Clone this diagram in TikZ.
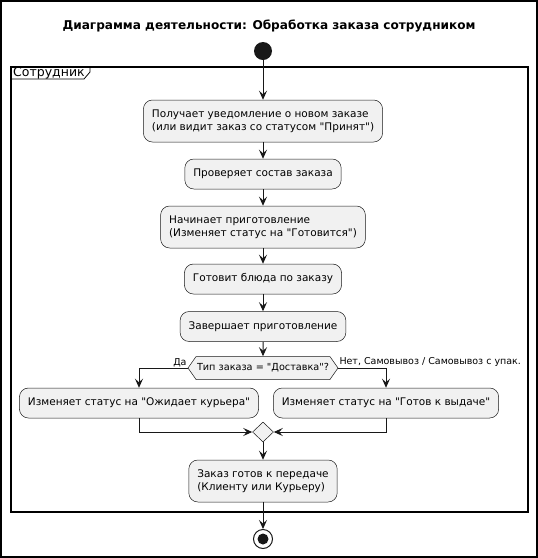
\documentclass[tikz,border=0pt]{standalone}
\usepackage{fontspec}
\setmainfont{DejaVu Sans}
\usetikzlibrary{arrows.meta,shapes.geometric,shapes.symbols}
\definecolor{actfill}{HTML}{F1F1F1}
\definecolor{actline}{HTML}{181818}
\tikzset{
  act/.style={draw=actline, line width=0.5pt, fill=actfill, rounded corners=9pt,
    align=left, inner xsep=8.5pt, inner ysep=0pt, minimum height=30pt,
    font=\fontsize{10.5}{12.8}\selectfont},
  act1/.style={act, text height=8pt, text depth=2.5pt},
  act2/.style={act, minimum height=42pt},
  flow/.style={draw=actline, line width=1pt, -{Stealth[length=9pt,width=8pt,inset=3.5pt]}},
  lbl/.style={font=\fontsize{9.5}{11}\selectfont, inner sep=1pt},
}
\begin{document}
\begin{tikzpicture}[x=1pt, y=-1pt]
  \useasboundingbox (0,0) rectangle (538,558);
  \draw[line width=2pt] (1,1) rectangle (537,557);
  \node[font=\bfseries\fontsize{12.1}{15}\selectfont] at (269,26) (title) {Диаграмма деятельности: Обработка заказа сотрудником};
  \draw[line width=1.5pt] (11,67) rectangle (528,512);
  \draw[line width=0.8pt] (11,79) -- (84,79) -- (90,72) -- (90,67);
  \node[anchor=west, inner sep=1pt, font=\fontsize{12.5}{15}\selectfont] at (12,73) (lane) {Сотрудник};
  \node[circle, fill=actline, minimum size=18pt, inner sep=0pt] at (263,51) (start) {};
  \node[act2] at (263,121) (recv) {Получает уведомление о новом заказе\\(или видит заказ со статусом \textquotedbl Принят\textquotedbl)};
  \node[act1] at (263,174) (check) {Проверяет состав заказа};
  \node[act2] at (263,227) (begin) {Начинает приготовление\\(Изменяет статус на \textquotedbl Готовится\textquotedbl)};
  \node[act1] at (263,279) (cook) {Готовит блюда по заказу};
  \node[act1] at (263,326.5) (finish) {Завершает приготовление};
  \node[signal, signal to=east and west, signal pointer angle=110, draw=actline, line width=0.5pt,
    fill=actfill, minimum width=150pt, minimum height=23pt, inner sep=0pt,
    font=\fontsize{9.7}{12}\selectfont] at (263,368) (dec) {Тип заказа = \textquotedbl Доставка\textquotedbl?};
  \node[act1] at (139,403) (wait) {Изменяет статус на \textquotedbl Ожидает курьера\textquotedbl};
  \node[act1] at (386,403) (give) {Изменяет статус на \textquotedbl Готов к выдаче\textquotedbl};
  \node[diamond, draw=actline, line width=0.5pt, fill=actfill, minimum width=21pt,
    minimum height=20pt, inner sep=0pt] at (263,432) (merge) {};
  \node[act2] at (263,481) (ready) {Заказ готов к передаче\\(Клиенту или Курьеру)};
  \node[circle, draw=actline, line width=1pt, fill=white, minimum size=19pt, inner sep=0pt] at (263,539) (stop) {};
  \node[circle, fill=actline, minimum size=11pt, inner sep=0pt] at (stop) (stopdot) {};
  \node[lbl, anchor=south east] at (dec.west) (yes) {Да};
  \node[lbl, anchor=south west] at (dec.east) (no) {Нет, Самовывоз / Самовывоз с упак.};
  \draw[flow] (start) -- (recv);
  \draw[flow] (recv) -- (check);
  \draw[flow] (check) -- (begin);
  \draw[flow] (begin) -- (cook);
  \draw[flow] (cook) -- (finish);
  \draw[flow] (finish) -- (dec);
  \draw[flow] (dec.west) -| (wait.north);
  \draw[flow] (dec.east) -| (give.north);
  \draw[flow] (wait.south) |- (merge.west);
  \draw[flow] (give.south) |- (merge.east);
  \draw[flow] (merge) -- (ready);
  \draw[flow] (ready) -- (stop);
\end{tikzpicture}
\end{document}
